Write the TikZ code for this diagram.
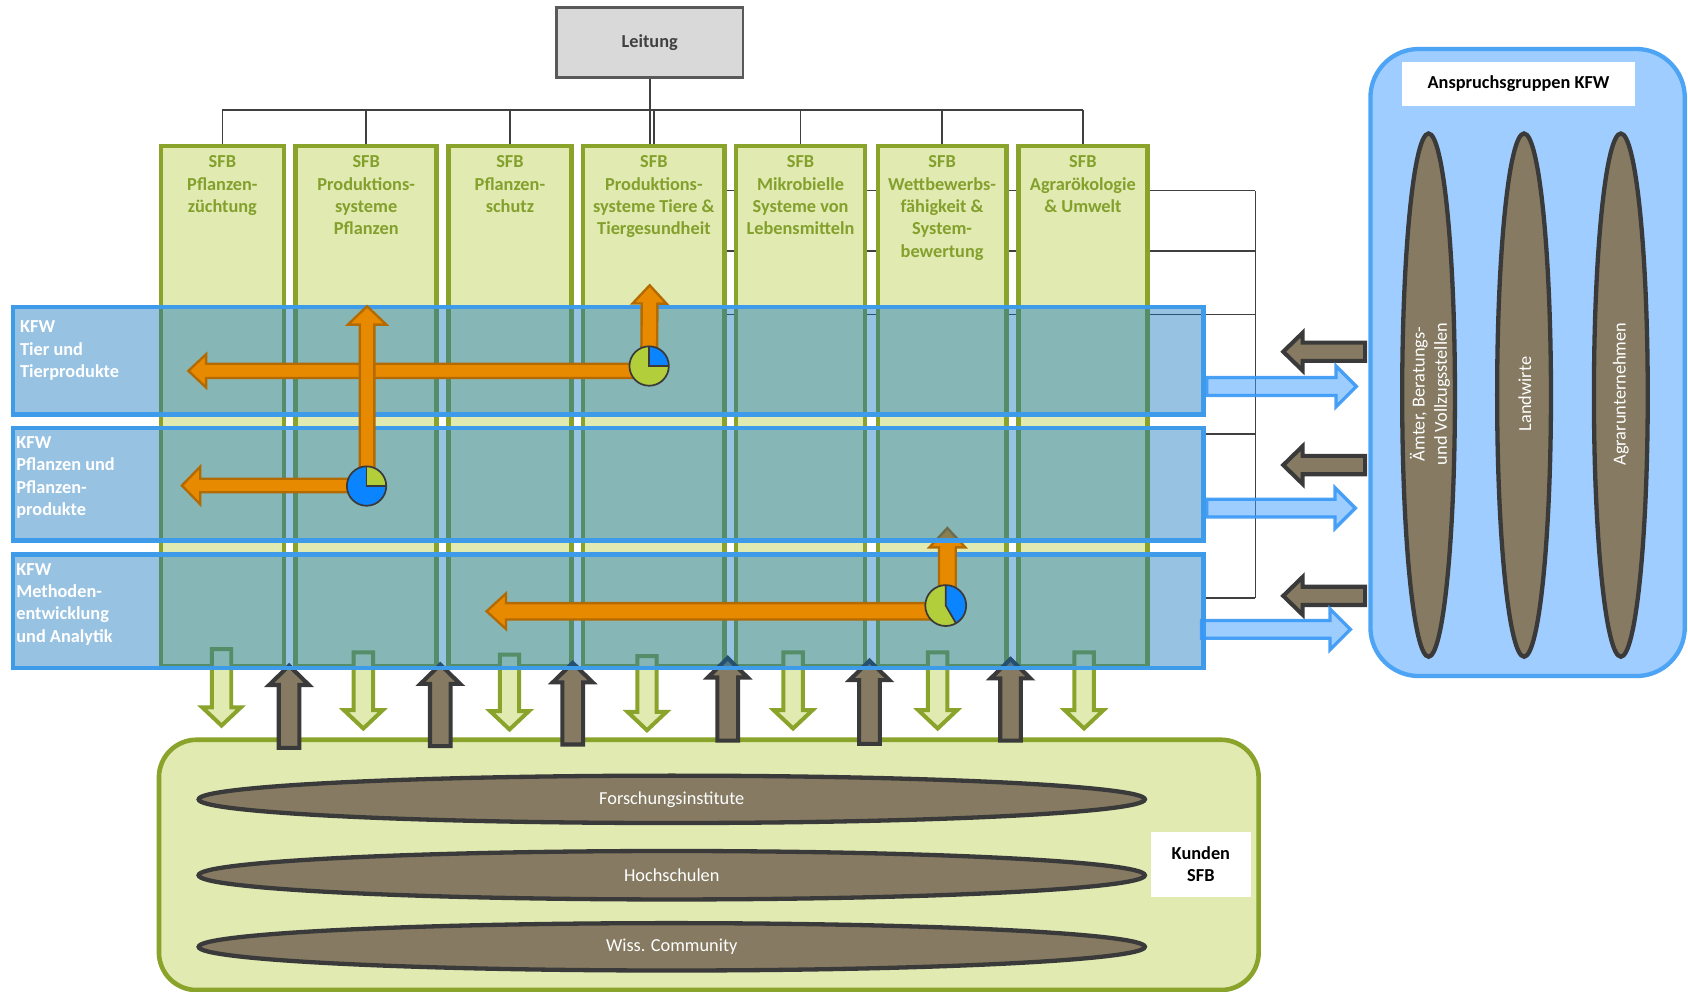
\documentclass[tikz,border=0pt]{standalone}
\usepackage{fontspec}
\setmainfont{Carlito}
\usetikzlibrary{calc,shapes.geometric}
\pgfdeclarelayer{back}
\pgfsetlayers{back,main}

\definecolor{colfill}{HTML}{E0EAB1}
\definecolor{colborder}{HTML}{8AA32B}
\definecolor{coltxt}{HTML}{84A02C}
\definecolor{leitfill}{HTML}{D9D9D9}
\definecolor{leitborder}{HTML}{595959}
\definecolor{leittxt}{HTML}{404040}
\definecolor{bandfill}{HTML}{0A70BC}
\definecolor{bandborder}{HTML}{3D9BEA}
\definecolor{orfill}{HTML}{E88A00}
\definecolor{orborder}{HTML}{B36A00}
\definecolor{piegreen}{HTML}{B2CE3A}
\definecolor{pieblue}{HTML}{0A84FF}
\definecolor{darkline}{HTML}{3A3A3A}
\definecolor{brownfill}{HTML}{867B62}
\definecolor{panelfill}{HTML}{A0CDFF}
\definecolor{panelborder}{HTML}{4DA4F5}
\definecolor{barfill}{HTML}{3D9BFF}
\definecolor{barborder}{HTML}{3898F5}
\definecolor{linecol}{HTML}{404040}

\newcommand{\blockarrow}[6]{%
  \path ($(#3)!#6!(#2)$) coordinate (bahead);
  \draw[#1] ($(#2)!#4!90:(#3)$) -- ($(bahead)!#4!90:(#3)$) -- ($(bahead)!#5!90:(#3)$) -- (#3) -- ($(bahead)!#5!-90:(#3)$) -- ($(bahead)!#4!-90:(#3)$) -- ($(#2)!#4!-90:(#3)$) -- cycle;%
}
\newcommand{\lowtext}[1]{\raisebox{-1.8pt}{#1}}

\tikzset{
  txt/.style={font=\fontsize{17}{20.7}\selectfont},
  btxt/.style={font=\bfseries\fontsize{17}{20.7}\selectfont},
  tree/.style={draw=linecol, line width=1.3},
  colbox/.style={draw=colborder, fill=colfill, line width=4.3, inner sep=0, anchor=north west, minimum height=483.5},
  coltext/.style={btxt, text=coltxt, align=center, anchor=north, inner sep=0},
  band/.style={fill=bandfill, fill opacity=0.42, draw=bandborder, draw opacity=1, line width=4, inner sep=0, anchor=north west, minimum width=1105.5},
  bandtext/.style={btxt, text=white, align=left, anchor=north west, inner sep=0},
  orangearr/.style={fill=orfill, draw=orborder, line width=2.2, line join=miter},
  greenarr/.style={fill=colfill, draw=colborder, line width=3.7, line join=miter},
  brownarr/.style={fill=brownfill, draw=darkline, line width=3.8, line join=miter},
  bluearr/.style={fill=barfill, fill opacity=0.5, draw=barborder, draw opacity=0.9, line width=3, line join=miter},
  piebase/.style={circle, inner sep=0, minimum size=36.6},
  pieline/.style={draw=darkline, line width=1.6},
  ell/.style={ellipse, fill=brownfill, draw=darkline, line width=4, inner sep=0, text=white, txt},
  elltext/.style={txt, text=white, inner sep=0, align=center},
}

\begin{document}
\begin{tikzpicture}[x=1pt,y=1pt]
\begin{pgfonlayer}{back}
  \fill[white] (0,0) rectangle (1568,-921.1);
\end{pgfonlayer}
\useasboundingbox (0,0) rectangle (1568,-921.1);

% ---------- SFB columns ----------
\node[colbox, minimum width=114.2] (c1) at (147.3,-133.5) {};
\node[colbox, minimum width=131]   (c2) at (272.5,-133.5) {};
\node[colbox, minimum width=114]   (c3) at (414.5,-133.5) {};
\node[colbox, minimum width=131.5] (c4) at (539.5,-133.5) {};
\node[colbox, minimum width=120]   (c5) at (681.5,-133.5) {};
\node[colbox, minimum width=119]   (c6) at (813.5,-133.5) {};
\node[colbox, minimum width=119.5] (c7) at (944,-133.5) {};
\node[coltext] (t1) at ($(c1.north)+(0,-11.2)$) {SFB\\Pflanzen-\\züchtung};
\node[coltext] (t2) at ($(c2.north)+(0,-11.2)$) {SFB\\Produktions-\\systeme\\Pflanzen};
\node[coltext] (t3) at ($(c3.north)+(0,-11.2)$) {SFB\\Pflanzen-\\schutz};
\node[coltext] (t4) at ($(c4.north)+(0,-11.2)$) {SFB\\Produktions-\\systeme Tiere \&\\Tiergesundheit};
\node[coltext] (t5) at ($(c5.north)+(0,-11.2)$) {SFB\\Mikrobielle\\Systeme von\\Lebensmitteln};
\node[coltext] (t6) at ($(c6.north)+(0,-11.2)$) {SFB\\Wettbewerbs-\\fähigkeit \&\\System-\\bewertung};
\node[coltext] (t7) at ($(c7.north)+(0,-11.2)$) {SFB\\Agrarökologie\\\& Umwelt};

% ---------- Leitung ----------
\node[draw=leitborder, fill=leitfill, line width=2.2, minimum width=173, minimum height=65, inner sep=0, text=leittxt, btxt] (lei) at (603.5,-39.5) {\lowtext{Leitung}};

% ---------- Kunden SFB ----------
\node[draw=colborder, fill=colfill, line width=4.3, rounded corners=35, minimum width=1021.5, minimum height=232.5, anchor=north west, inner sep=0] (kb) at (145.5,-685) {};
\node[ell, minimum width=879, minimum height=44] (e1) at (624,-742.5) {\lowtext{Forschungsinstitute}};
\node[ell, minimum width=879, minimum height=45] (e2) at (624,-813) {\lowtext{Hochschulen}};
\node[ell, minimum width=879, minimum height=44] (e3) at (624,-879.5) {\lowtext{Wiss. Community}};
\node[fill=white, minimum width=93, minimum height=60.4, inner sep=0, align=center, btxt, text=black] (ks) at (1115.5,-802.8) {Kunden\\SFB};

% down arrows (SFB -> Kunden)
\foreach \xx/\ya/\yb [count=\i] in {205.8/603/674, 337.5/606/676.7, 473.3/608/677.6, 601/609.5/678.3, 736.7/606/676.7, 871/606/676.7, 1007/606/676.7}{
  \coordinate (ds\i) at (\xx,-\ya);
  \coordinate (dt\i) at (\xx,-\yb);
  \blockarrow{greenarr}{ds\i}{dt\i}{9pt}{18pt}{17pt}
}
% up arrows (Kunden -> SFB)
\foreach \xx/\ya/\yb [count=\i] in {268.5/694.7/618.3, 409/693/617.3, 532/691.6/615.8, 676/688/611.3, 807.7/691/613.8, 938.7/688/612.2}{
  \coordinate (us\i) at (\xx,-\ya);
  \coordinate (ut\i) at (\xx,-\yb);
  \blockarrow{brownarr}{us\i}{ut\i}{9.6pt}{18.5pt}{18pt}
}

% ---------- KFW band 3 + its arrows ----------
\node[band, minimum height=105.8] (k3) at (10.3,-513) {};
\node[bandtext] (k3t) at (15,-523.1) {KFW\\Methoden-\\entwicklung\\und Analytik};
\coordinate (pc3) at (878.5,-562.5);
\coordinate (aEs) at (879,-567.8);
\coordinate (aEt) at (452,-567.8);
\coordinate (aFs) at (880,-562);
\coordinate (aFt) at (880,-490.5);
\blockarrow{orangearr}{aEs}{aEt}{7.6pt}{16.5pt}{18pt}
\blockarrow{orangearr}{aFs}{aFt}{7.8pt}{16.7pt}{18pt}
\node[piebase, fill=piegreen, minimum size=38] (p3) at (pc3) {};
\fill[pieblue] (p3.center) -- ++(-60:19pt) arc[start angle=-60, end angle=90, radius=19pt] -- cycle;
\draw[pieline] (p3.center) circle[radius=19pt];
\draw[pieline] ($(p3.center)+(-60:19pt)$) -- (p3.center) -- ($(p3.center)+(90:19pt)$);

% ---------- KFW bands 2 and 1 ----------
\node[band, minimum height=104.7] (k2) at (10.3,-395.3) {};
\node[bandtext] (k2t) at (15,-405.5) {KFW\\Pflanzen und\\Pflanzen-\\produkte};
\node[band, minimum height=99.7] (k1) at (10.3,-283.3) {};
\node[bandtext] (k1t) at (18.5,-298) {KFW\\Tier und\\Tierprodukte};

% orange arrows of bands 1 and 2
\coordinate (pc1) at (603,-340);
\coordinate (pc2) at (340.5,-451.5);
\coordinate (aAs) at (603,-344.5);
\coordinate (aAt) at (175,-344.5);
\coordinate (aBt) at (603.5,-265);
\coordinate (aCs) at (341,-451.5);
\coordinate (aCt) at (341,-284.5);
\coordinate (aDs) at (340,-451);
\coordinate (aDt) at (169,-451);
\blockarrow{orangearr}{aAs}{aAt}{6.6pt}{15.5pt}{16.5pt}
\blockarrow{orangearr}{pc1}{aBt}{7.3pt}{15.8pt}{17pt}
\blockarrow{orangearr}{aCs}{aCt}{6.8pt}{17.8pt}{17pt}
\blockarrow{orangearr}{aDs}{aDt}{6.3pt}{17.5pt}{17pt}
\node[piebase, fill=piegreen] (p1) at (pc1) {};
\fill[pieblue] (p1.center) -- ++(0:18.3pt) arc[start angle=0, end angle=90, radius=18.3pt] -- cycle;
\draw[pieline] (p1.center) circle[radius=18.3pt];
\draw[pieline] ($(p1.center)+(0:18.3pt)$) -- (p1.center) -- ($(p1.center)+(90:18.3pt)$);
\node[piebase, fill=pieblue] (p2) at (pc2) {};
\fill[piegreen] (p2.center) -- ++(0:18.3pt) arc[start angle=0, end angle=90, radius=18.3pt] -- cycle;
\draw[pieline] (p2.center) circle[radius=18.3pt];
\draw[pieline] ($(p2.center)+(0:18.3pt)$) -- (p2.center) -- ($(p2.center)+(90:18.3pt)$);

% ---------- Anspruchsgruppen KFW ----------
\node[draw=panelborder, fill=panelfill, line width=4, rounded corners=45, minimum width=292, minimum height=582.5, inner sep=0, anchor=north west] (rp) at (1271,-43.5) {};
\node[fill=white, minimum width=216.3, minimum height=40, inner sep=0, btxt, text=black] (ag) at (1410.6,-78) {Anspruchsgruppen KFW};
\node[ell, minimum width=49, minimum height=486] (r1) at (1327,-367) {};
\node[ell, minimum width=50, minimum height=486] (r2) at (1415.7,-367) {};
\node[ell, minimum width=50, minimum height=486] (r3) at (1505.6,-367) {};
\node[elltext, rotate=90] (r1t) at (1328.3,-366) {Ämter, Beratungs-\\und Vollzugsstellen};
\node[elltext, rotate=90] (r2t) at (1416.4,-366) {Landwirte};
\node[elltext, rotate=90] (r3t) at (1505.6,-366) {Agrarunternehmen};

% arrows between panel and bands
\coordinate (la1s) at (1268,-326.7); \coordinate (la1t) at (1192,-326.7);
\coordinate (la2s) at (1268,-432);   \coordinate (la2t) at (1192,-432);
\coordinate (la3s) at (1268,-553.5); \coordinate (la3t) at (1192,-553.5);
\blockarrow{brownarr}{la1s}{la1t}{8.5pt}{17.5pt}{18pt}
\blockarrow{brownarr}{la2s}{la2t}{8.5pt}{17.5pt}{18pt}
\blockarrow{brownarr}{la3s}{la3t}{8.5pt}{17.5pt}{18pt}
\coordinate (ra1s) at (1121,-359);   \coordinate (ra1t) at (1260,-359);
\coordinate (ra2s) at (1121,-472);   \coordinate (ra2t) at (1259,-472);
\coordinate (ra3s) at (1116,-584.6); \coordinate (ra3t) at (1254.5,-584.6);
\blockarrow{bluearr}{ra1s}{ra1t}{8.3pt}{19pt}{19pt}
\blockarrow{bluearr}{ra2s}{ra2t}{8.3pt}{19pt}{19pt}
\blockarrow{bluearr}{ra3s}{ra3t}{8.3pt}{19pt}{19pt}

% ---------- connector lines (behind everything) ----------
\begin{pgfonlayer}{back}
  \coordinate (busy) at (0,-102);
  \draw[tree] (c1.north |- busy) -- (c7.north |- busy);
  \foreach \c in {c1,c2,c3,c4,c5,c6,c7}{\draw[tree] (\c.north |- busy) -- (\c.north);}
  \draw[tree, line width=2.2] (lei.south) -- (lei.south |- c4.north);
  \coordinate (ry1) at (1166,-177);
  \coordinate (ry2) at (1166,-233);
  \coordinate (ry3) at (1166,-292);
  \coordinate (ry4) at (1166,-403);
  \coordinate (ry5) at (1166,-555.5);
  \draw[tree] (c4.east |- ry1) -- (ry1);
  \draw[tree] (c4.east |- ry2) -- (ry2);
  \draw[tree] (c4.east |- ry3) -- (ry3);
  \draw[tree] (k2.east |- ry4) -- (ry4);
  \draw[tree] (k3.east |- ry5) -- (ry5);
  \draw[tree] (ry1) -- (ry5);
\end{pgfonlayer}
\end{tikzpicture}
\end{document}
